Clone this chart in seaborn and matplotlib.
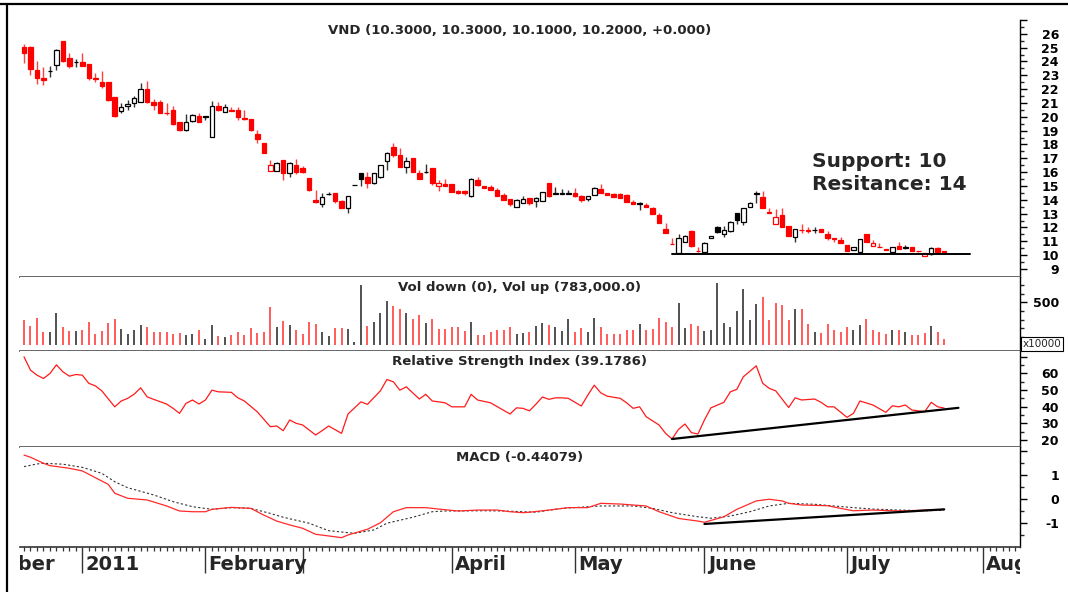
import matplotlib
matplotlib.use("Agg")
import matplotlib.pyplot as plt
from matplotlib.lines import Line2D
import seaborn as sns

# ---------------- data ----------------
opens = [25.03,25.03,23.40,22.78,23.28,23.72,25.50,24.25,23.96,23.99,
         23.82,22.80,22.50,22.50,21.43,20.41,20.75,20.99,21.09,22.00,
         21.04,21.04,20.30,20.51,19.64,19.06,19.71,20.07,20.03,18.53,
         20.80,20.34,20.50,20.51,19.95,19.83,18.77,18.10,16.11,16.11,
         16.88,15.97,16.50,16.28,15.60,13.99,13.70,14.40,14.47,13.91,
         13.38,15.07,15.97,15.63,15.20,15.63,16.84,17.80,17.25,16.40,
         17.05,15.97,16.02,16.28,15.00,15.15,15.12,14.64,14.64,14.28,
         15.44,15.00,14.95,14.69,14.37,14.08,13.46,13.79,14.16,13.94,
         13.91,15.20,14.45,14.45,14.45,14.52,14.30,14.03,14.35,14.76,
         14.47,14.42,14.40,14.32,13.82,13.73,13.62,13.38,12.90,11.88,
         10.82,10.12,10.97,11.76,10.30,10.25,11.26,12.05,11.52,11.76,
         13.02,12.42,13.50,14.45,14.18,13.07,12.25,12.90,12.10,11.33,
         11.83,11.78,11.80,11.88,11.50,11.22,11.09,10.73,10.37,10.20,
         11.50,10.66,10.62,10.48,10.20,10.66,10.52,10.56,10.30,9.93,
         10.05,10.53,10.30]
highs = [25.29,25.10,24.00,23.60,23.65,24.90,25.50,24.60,24.18,24.60,
         23.82,23.20,23.30,22.50,21.43,21.00,21.23,21.47,22.44,22.60,
         21.28,21.23,21.00,20.80,19.66,20.22,20.22,20.27,20.05,21.16,
         21.10,20.92,20.70,20.70,20.51,19.83,19.06,18.10,16.88,16.76,
         16.88,16.76,16.93,16.45,15.60,14.71,14.47,14.59,14.52,14.00,
         14.30,15.07,15.97,16.04,15.97,16.52,17.49,18.10,17.73,17.08,
         17.05,16.16,16.57,16.28,15.44,15.49,15.12,14.71,14.71,15.56,
         15.68,15.00,15.07,14.83,14.52,14.08,14.08,14.28,14.16,14.23,
         14.59,15.20,14.95,14.76,14.71,14.83,14.35,14.30,14.95,15.15,
         14.52,14.52,14.52,14.42,14.00,13.87,13.75,13.50,13.02,12.30,
         11.21,11.52,11.45,11.81,10.60,10.97,11.40,12.10,12.10,12.47,
         13.07,13.38,13.87,14.66,14.66,13.38,13.30,13.38,12.10,11.88,
         12.25,12.05,12.05,11.90,11.76,11.22,11.33,10.73,10.60,11.14,
         11.50,11.09,10.85,10.48,10.60,10.97,10.73,10.60,10.30,10.12,
         10.60,10.60,10.30]
lows = [23.89,23.00,22.40,22.30,22.90,23.36,23.94,23.53,23.58,23.65,
        22.63,22.50,22.08,21.16,20.00,20.30,20.46,20.70,21.09,20.99,
        20.46,20.27,20.15,19.40,18.96,18.99,19.66,19.64,19.78,18.53,
        20.39,20.34,20.39,19.78,19.78,18.94,18.10,17.37,16.11,16.11,
        15.44,15.68,15.90,15.95,14.66,13.80,13.50,14.35,13.79,13.38,
        13.07,15.07,15.00,14.83,15.15,15.60,16.16,17.13,16.40,15.92,
        16.04,15.49,15.92,15.07,14.66,15.00,14.59,14.40,14.35,14.23,
        15.00,14.83,14.71,14.30,13.99,13.55,13.46,13.75,13.62,13.46,
        13.91,14.23,14.40,14.40,14.40,14.23,13.87,13.95,14.35,14.52,
        14.35,14.23,14.16,13.87,13.67,13.26,13.45,12.97,12.30,11.57,
        10.78,10.12,10.97,10.60,10.25,10.20,11.26,11.57,11.28,11.70,
        12.25,12.18,13.50,13.79,13.38,13.05,12.25,12.05,11.38,10.97,
        11.57,11.57,11.57,11.69,11.09,10.97,10.85,10.32,10.37,10.15,
        10.97,10.66,10.60,10.37,10.20,10.48,10.48,10.32,10.20,9.93,
        10.00,10.20,10.10]
closes = [24.61,23.46,22.80,22.63,23.30,24.81,24.00,23.65,23.94,23.70,
          22.78,22.75,22.20,21.21,20.07,20.70,20.90,21.33,22.03,21.04,
          20.82,20.30,20.25,19.47,19.06,19.59,20.10,19.64,20.00,20.80,
          20.46,20.68,20.45,19.98,19.83,19.06,18.38,17.37,16.52,16.64,
          15.97,16.64,16.04,16.00,14.71,13.84,14.23,14.42,13.94,13.38,
          14.30,15.07,15.51,15.20,15.92,16.52,17.42,17.25,16.40,16.84,
          16.04,15.49,16.04,15.24,15.20,15.00,14.59,14.52,14.50,15.48,
          15.07,14.83,14.71,14.30,13.99,13.67,13.99,14.03,13.75,14.11,
          14.59,14.30,14.47,14.47,14.47,14.30,13.99,14.30,14.88,14.52,
          14.35,14.23,14.16,13.87,13.67,13.75,13.45,12.97,12.30,11.57,
          10.80,11.21,11.40,10.65,10.28,10.90,11.40,11.64,11.81,12.42,
          12.54,13.38,13.79,14.47,13.38,13.07,12.73,12.05,11.38,11.88,
          11.80,11.77,11.82,11.69,11.21,11.20,10.85,10.32,10.60,11.14,
          10.97,10.85,10.60,10.37,10.60,10.48,10.60,10.32,10.28,10.12,
          10.53,10.20,10.20]
# volume in units of 10,000 shares
volumes = [295,225,322,151,151,372,209,167,167,178,275,132,167,264,302,194,132,178,233,209,
           155,155,151,132,140,120,132,178,74,236,109,101,116,151,120,198,140,159,450,217,
           283,236,178,128,275,248,151,109,198,205,190,35,702,229,275,380,516,461,426,372,
           306,353,256,306,190,190,217,217,171,275,120,120,151,178,178,217,132,140,151,225,
           256,236,209,171,302,159,198,151,322,217,132,132,132,178,178,248,178,190,322,267,
           217,496,205,248,225,171,178,721,256,217,399,655,295,481,566,295,496,469,295,422,
           419,248,159,140,248,178,151,209,178,236,302,178,151,132,178,178,151,120,120,140,
           229,151,78]

rsi_day = [0,1,2,3,4,5,6,7,8,9,10,11,12,14,15,16,17,18,19,20,22,23,24,25,26,27,28,29,30,32,
           33,34,36,38,39,40,41,42,43,45,46,47,49,50,52,53,55,56,57,58,59,61,62,63,64,65,66,68,
           69,70,72,75,76,77,78,79,80,81,82,83,84,86,87,88,89,90,92,93,94,95,96,98,99,100,101,
           102,103,104,105,106,108,109,110,111,113,114,115,116,118,119,120,122,123,124,125,127,
           128,129,131,133,134,135,136,137,139,140,141,142]
rsi_val = [69.9,61.9,58.9,56.9,59.9,65.1,60.9,58.3,59.3,58.9,54.0,52.5,49.5,39.9,43.4,45.0,47.5,
           51.3,45.9,44.4,41.6,39.0,36.0,42.0,44.0,41.6,44.0,49.9,48.9,48.6,45.3,43.4,36.9,28.0,
           28.4,25.6,32.0,30.0,29.0,23.0,25.6,28.4,24.0,35.6,42.9,41.4,49.5,56.3,54.9,49.9,51.9,
           44.6,47.4,43.4,42.9,42.3,39.9,39.9,47.4,44.0,42.3,35.6,39.3,39.0,37.5,41.5,45.8,44.4,
           45.3,45.3,45.0,40.4,46.9,52.9,48.3,46.3,45.0,42.3,39.0,39.9,34.0,29.0,24.0,20.6,26.4,
           29.6,24.4,23.6,32.0,39.3,42.6,48.9,50.4,57.9,64.5,54.0,51.0,49.5,39.5,45.3,44.0,44.6,
           42.6,39.9,39.9,33.6,36.0,43.4,41.0,36.6,40.5,39.9,41.0,38.0,37.0,42.6,39.9,39.18]

macd_day = [0,1,3,4,7,9,11,13,14,16,19,22,24,26,28,29,32,35,37,39,41,43,45,47,49,50,53,55,57,59,
            62,64,67,70,73,75,77,78,81,84,87,89,92,96,98,101,104,105,108,110,113,115,117,118,120,
            124,126,128,131,134,136,139,142]
macd_val = [1.83,1.74,1.49,1.39,1.28,1.17,0.89,0.61,0.24,0.03,-0.04,-0.29,-0.50,-0.53,-0.53,
            -0.43,-0.35,-0.39,-0.67,-0.92,-1.08,-1.22,-1.47,-1.54,-1.61,-1.50,-1.26,-0.99,-0.53,
            -0.36,-0.36,-0.42,-0.50,-0.46,-0.46,-0.53,-0.57,-0.55,-0.46,-0.36,-0.36,-0.18,-0.21,
            -0.29,-0.53,-0.81,-0.92,-0.97,-0.74,-0.43,-0.08,-0.01,-0.08,-0.18,-0.25,-0.28,-0.39,
            -0.49,-0.46,-0.49,-0.50,-0.46,-0.44]
signal_day = [0,2,3,6,9,12,14,16,20,23,26,29,32,35,38,40,44,47,51,54,56,60,63,65,71,74,79,83,89,
              94,97,100,104,106,109,112,115,118,122,125,128,131,135,139,142]
signal_val = [1.35,1.46,1.49,1.45,1.32,1.07,0.72,0.47,0.17,-0.11,-0.32,-0.43,-0.36,-0.39,-0.60,
              -0.76,-1.01,-1.32,-1.43,-1.29,-1.01,-0.76,-0.53,-0.50,-0.49,-0.50,-0.55,-0.39,-0.29,
              -0.29,-0.39,-0.57,-0.74,-0.80,-0.71,-0.53,-0.29,-0.18,-0.22,-0.29,-0.36,-0.42,-0.46,
              -0.49,-0.47]

month_labels = ["December", "2011", "February", "", "April", "May", "June", "July", "August"]
month_start_day = [-13, 9, 28, 43, 66, 85, 105, 127, 148]

support_days = [100, 146]
support_level = 10.08
rsi_trend_day = [100, 144.2]
rsi_trend_val = [20.6, 39.3]
macd_trend_day = [105, 142]
macd_trend_val = [-1.04, -0.43]

title_price = "VND (10.3000, 10.3000, 10.1000, 10.2000, +0.000)"
title_vol = "Vol down (0), Vol up (783,000.0)"
title_rsi = "Relative Strength Index (39.1786)"
title_macd = "MACD (-0.44079)"

# ---------------- styling ----------------
sns.set_style("white")
plt.rcParams["font.family"] = ["DejaVu Sans"]

RED = "#ff0000"
BLACK = "#000000"
W, H = 1068, 592
fig = plt.figure(figsize=(W / 100, H / 100), dpi=100)
fig.patch.set_facecolor("white")


def panel(top, bottom):
    return fig.add_axes([20 / W, 1 - bottom / H, 1000 / W, (bottom - top) / H])


ax_p = panel(20, 277)
ax_v = panel(277, 351)
ax_r = panel(351, 447)
ax_m = panel(447, 547)

days = list(range(len(closes)))
prev = [opens[0]] + closes[:-1]
cols, wick_cols, faces, bottoms, heights = [], [], [], [], []
for o, c, p in zip(opens, closes, prev):
    down = c < p or (c == p and c < o)
    col = RED if down else BLACK
    cols.append(col)
    wick_cols.append("#ff4040" if down else "#333333")
    faces.append(col if c < o else "white")
    bottoms.append(min(o, c))
    heights.append(max(abs(c - o), 0.02))

# price candles
ax_p.vlines(days, lows, highs, colors=wick_cols, linewidth=1.0, zorder=2)
ax_p.bar(days, heights, bottom=bottoms, width=0.7, color=faces, edgecolor=cols,
         linewidth=0.9, zorder=3)
ax_p.plot(support_days, [support_level] * 2, color=BLACK, linewidth=1.4, zorder=4)
ax_p.set_ylim(8.42, 27.0)

# volume
ax_v.vlines(days, 0, volumes, colors=wick_cols, linewidth=1.2)
ax_v.set_ylim(-66, 794)

# RSI
sns.lineplot(x=rsi_day, y=rsi_val, ax=ax_r, color="#ff1a1a", linewidth=0.9,
             estimator=None, sort=False)
ax_r.plot(rsi_trend_day, rsi_trend_val, color=BLACK, linewidth=1.6)
ax_r.set_ylim(15.8, 73.4)

# MACD
sns.lineplot(x=signal_day, y=signal_val, ax=ax_m, color="#333333", linewidth=0.8,
             linestyle=(0, (2, 2)), estimator=None, sort=False)
sns.lineplot(x=macd_day, y=macd_val, ax=ax_m, color="#ff2a2a", linewidth=0.9,
             estimator=None, sort=False)
ax_m.plot(macd_trend_day, macd_trend_val, color=BLACK, linewidth=1.6)
ax_m.set_ylim(-2.0, 2.167)

# axes formatting
yaxes = [
    (ax_p, list(range(9, 28)), [str(v) for v in range(9, 27)] + [""], [v + 0.5 for v in range(9, 27)]),
    (ax_v, [500], ["500"], [0, 100, 200, 300, 400, 600, 700]),
    (ax_r, [20, 30, 40, 50, 60, 70], ["20", "30", "40", "50", "60", ""], [25, 35, 45, 55, 65]),
    (ax_m, [-1, 0, 1, 2], ["-1", "0", "1", ""], [-1.5, -0.5, 0.5, 1.5]),
]
for ax, majors, labels, minors in yaxes:
    ax.set_xlim(-0.62, 153.7)
    ax.set_facecolor("white")
    ax.grid(False)
    ax.set_xlabel("")
    ax.set_ylabel("")
    for s in ("top", "left"):
        ax.spines[s].set_visible(False)
    ax.spines["right"].set_color(BLACK)
    ax.spines["right"].set_linewidth(1.0)
    ax.spines["bottom"].set_color("#5a5a5a")
    ax.spines["bottom"].set_linewidth(1.3)
    ax.yaxis.tick_right()
    ax.set_yticks(majors)
    ax.set_yticklabels(labels, fontsize=9, fontweight="bold", ha="right")
    ax.set_yticks(minors, minor=True)
    ax.tick_params(axis="y", which="major", direction="out", length=5, width=1,
                   pad=23, colors=BLACK, right=True, left=False)
    ax.tick_params(axis="y", which="minor", direction="out", length=3, width=1,
                   right=True, left=False)
    ax.tick_params(axis="x", which="both", bottom=False, labelbottom=False)

ax_m.spines["bottom"].set_color("#333333")
ax_m.spines["bottom"].set_linewidth(1.2)
ax_m.set_xticks(month_start_day)
ax_m.set_xticks(list(range(0, 154)), minor=True)
ax_m.tick_params(axis="x", which="major", bottom=True, direction="out", length=19,
                 width=1, labelbottom=False, colors="#333333")
ax_m.tick_params(axis="x", which="minor", bottom=True, direction="out", length=3,
                 width=0.9, colors="#333333")
ax_m.set_xlim(-0.62, 153.7)

# month labels (clipped to the plot width, as in the reference)
ax_l = fig.add_axes([20 / W, 0, 1000 / W, 45 / H])
ax_l.set_xlim(-0.62, 153.7)
ax_l.set_ylim(0, 1)
ax_l.axis("off")
for d, lbl in zip(month_start_day, month_labels):
    ax_l.text(d + 0.5, 0.62, lbl, ha="left", va="center", fontsize=14,
              fontweight="bold", clip_on=True)

# titles
ax_p.text(0.5, 1 - 10 / 257, title_price, transform=ax_p.transAxes, ha="center",
          va="center", fontsize=9.5, fontweight="bold")
ax_v.text(0.5, 1 - 10 / 74, title_vol, transform=ax_v.transAxes, ha="center",
          va="center", fontsize=9.5, fontweight="bold")
ax_r.text(0.5, 1 - 10 / 96, title_rsi, transform=ax_r.transAxes, ha="center",
          va="center", fontsize=9.5, fontweight="bold")
ax_m.text(0.5, 1 - 11 / 100, title_macd, transform=ax_m.transAxes, ha="center",
          va="center", fontsize=9.5, fontweight="bold")

# annotations
ax_p.text(0.792, (277 - 161) / 257, "Support: 10", transform=ax_p.transAxes,
          ha="left", va="center", fontsize=14.5, fontweight="bold")
ax_p.text(0.792, (277 - 184) / 257, "Resitance: 14", transform=ax_p.transAxes,
          ha="left", va="center", fontsize=14.5, fontweight="bold")

fig.text(1022.5 / W, 1 - 344 / H, "x10000", ha="left", va="center", fontsize=7.5,
         bbox=dict(boxstyle="square,pad=0.15", fc="white", ec=BLACK, lw=0.8))

# outer frame (top and left)
fig.add_artist(Line2D([0, 1], [1 - 3.5 / H] * 2, color=BLACK, linewidth=1.6,
                      transform=fig.transFigure))
fig.add_artist(Line2D([6.5 / W] * 2, [0, 1 - 3.5 / H], color=BLACK, linewidth=1.6,
                      transform=fig.transFigure))

fig.savefig("out.png", dpi=100, facecolor="white")
